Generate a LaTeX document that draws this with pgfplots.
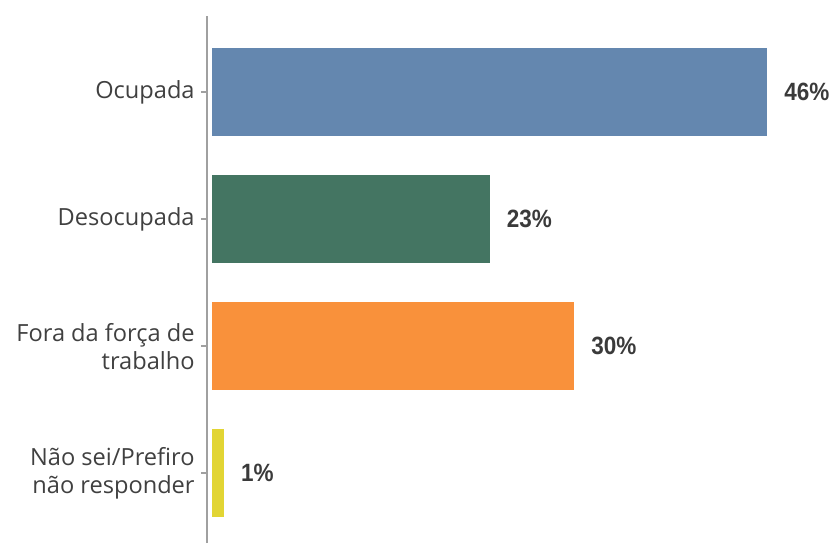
\documentclass[border=0pt]{standalone}
\usepackage{pgfplots}
\pgfplotsset{compat=1.18}
\usepackage{fontspec}
\setmainfont{Open Sans}
\newfontfamily\valfont[FakeStretch=0.9]{Liberation Sans}
\definecolor{cOcup}{HTML}{6487AF}
\definecolor{cDeso}{HTML}{447562}
\definecolor{cFora}{HTML}{F9913B}
\definecolor{cNao}{HTML}{E2D534}
\definecolor{axisgray}{HTML}{A0A0A0}
\definecolor{labgray}{HTML}{404040}
\definecolor{valgray}{HTML}{3A3A3A}
\begin{document}
\begin{tikzpicture}
 % frame of the whole picture (835x543 px at 0.5pt per px)
 \path[use as bounding box] (-103.5pt,0) rectangle (314pt,271.5pt);
 \begin{axis}[
 at={(0,0)}, anchor=south west,
 scale only axis,
 width=314pt, height=263.5pt,
 xbar, bar width=44pt, bar shift=0pt,
 xmin=-0.414, xmax=51.6,
 ymin=-0.55, ymax=3.6,
 axis x line=none,
 axis y line*=left,
 axis line style={axisgray, line width=0.75pt},
 ytick={0,1,2,3},
 yticklabels={{Não sei/Prefiro\\não responder},{Fora da força de\\trabalho},Desocupada,Ocupada},
 yticklabel style={align=right, font=\fontsize{11.8pt}{14pt}\selectfont, text=labgray, inner xsep=3pt},
 major tick length=3pt,
 tick align=outside,
 tick style={axisgray, line width=0.75pt},
 point meta=x,
 /pgf/number format/assume math mode=true,
 nodes near coords={\pgfmathprintnumber[fixed,precision=0]{\pgfplotspointmeta}\%},
 nodes near coords style={anchor=west, xshift=5pt, font=\valfont\bfseries\fontsize{12.5pt}{14pt}\selectfont, text=valgray},
 ]
 \addplot[fill=cOcup, draw=none] coordinates {(46,3)};
 \addplot[fill=cDeso, draw=none] coordinates {(23,2)};
 \addplot[fill=cFora, draw=none] coordinates {(30,1)};
 \addplot[fill=cNao, draw=none] coordinates {(1,0)};
 \end{axis}
\end{tikzpicture}
\end{document}
